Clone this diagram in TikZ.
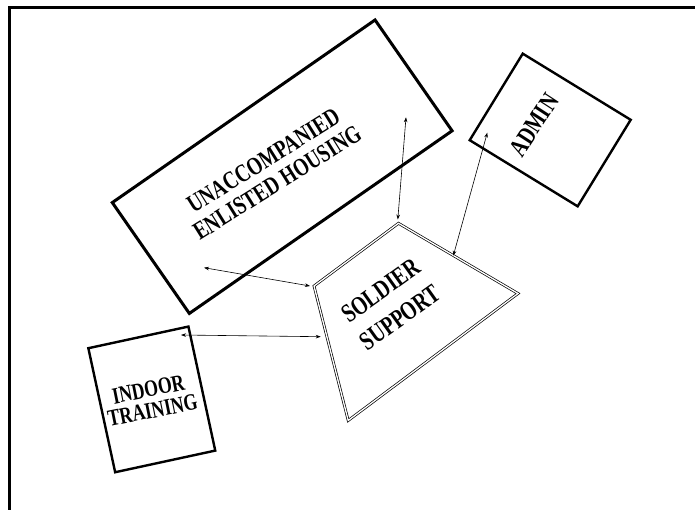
\documentclass[tikz,border=0pt]{standalone}
\usepackage{fontspec}
\setmainfont{Liberation Serif}
% narrow, tall lettering for the building names
\newfontfamily\narrowserif[FakeStretch=0.76]{Liberation Serif}
\usetikzlibrary{arrows.meta}
\begin{document}
\begin{tikzpicture}[x=1pt,y=-1pt,
  box/.style={draw, line width=2.4pt, inner sep=0pt, line join=miter},
  txt/.style={align=center, inner sep=0pt},
  link/.style={line width=0.6pt,
    {Stealth[length=5pt,width=3.6pt]}-{Stealth[length=5pt,width=3.6pt]}},
  frame/.style={line width=3pt, line join=miter}]
\useasboundingbox (0,0) rectangle (695,510);

% page frame (top and left edges)
\coordinate (frameBL) at (9.8,510);
\coordinate (frameTL) at (9.8,7.3);
\coordinate (frameTR) at (695,7.3);
\draw[frame] (frameBL) -- (frameTL) -- (frameTR);

% buildings
\node[box, line width=3pt, minimum width=320pt, minimum height=135pt,
      rotate=34.8] (ueh) at (282.2,166.7) {};
\node[box, minimum width=126.6pt, minimum height=101.5pt,
      rotate=-31.5] (admin) at (550.2,130) {};
\node[box, minimum width=102.4pt, minimum height=126.9pt,
      rotate=12.2] (indoor) at (151.8,399.4) {};

% soldier support: four-sided outline with a double line
\coordinate (ssT) at (398.5,223.3);
\coordinate (ssR) at (518,293.5);
\coordinate (ssB) at (348.2,420.5);
\coordinate (ssL) at (314,286);
\draw[double, line width=0.7pt, double distance=1.3pt, line join=miter]
  (ssT) -- (ssR) -- (ssB) -- (ssL) -- cycle;

% labels
\node[txt, font=\narrowserif\bfseries\fontsize{25.3}{26}\selectfont, rotate=32]
  (uehText) at (270.3,171.7) {UNACCOMPANIED\\ENLISTED HOUSING};
\node[txt, font=\narrowserif\bfseries\fontsize{26.3}{33}\selectfont, rotate=35.5]
  (ssText) at (390.4,303.9) {SOLDIER\\SUPPORT};
\node[txt, font=\narrowserif\bfseries\fontsize{25.7}{28}\selectfont, rotate=57]
  (adminText) at (534,125) {ADMIN};
\node[txt, font=\narrowserif\bfseries\fontsize{23.4}{21.5}\selectfont, rotate=11.5]
  (indoorText) at (150.5,399.8) {INDOOR\\TRAINING};

% connector end points
\coordinate (uehEndA) at (406,117.3);
\coordinate (ssEndA) at (397.8,219.5);
\coordinate (uehEndB) at (204,267.7);
\coordinate (ssEndB) at (310,286);
\coordinate (adminEnd) at (487.3,132.7);
\coordinate (ssEndC) at (453.3,255.7);
\coordinate (indoorEnd) at (181,335);
\coordinate (ssEndD) at (320.7,336.7);

% connectors
\draw[link] (uehEndA) -- (ssEndA);
\draw[link] (uehEndB) -- (ssEndB);
\draw[link] (adminEnd) -- (ssEndC);
\draw[link] (indoorEnd) -- (ssEndD);
\end{tikzpicture}
\end{document}
